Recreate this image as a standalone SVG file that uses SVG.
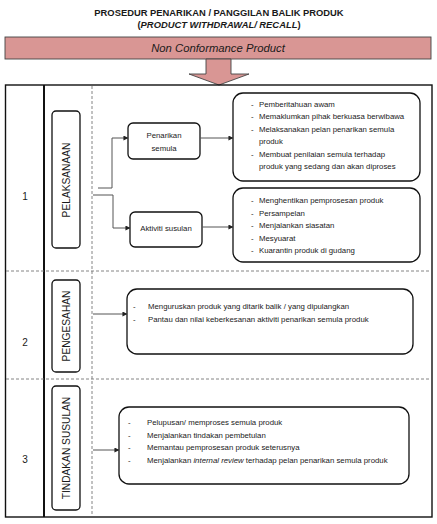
<svg xmlns="http://www.w3.org/2000/svg" width="437" height="524" viewBox="0 0 437 524">
<defs>
<style>
.t{font-family:"Liberation Sans",Arial,sans-serif;fill:#1a1a1a}
.title{font-size:9.4px;font-weight:bold}
.item{font-size:7.8px}
.lbl{font-size:10.2px}
.num{font-size:10px}
.box{fill:#fff;stroke:#111;stroke-width:1.3}
.con{fill:none;stroke:#555;stroke-width:1}
.dash{fill:none;stroke:#777;stroke-width:0.9;stroke-dasharray:3,2}
</style>
<marker id="ah" viewBox="0 0 6 6" refX="5.5" refY="3" markerWidth="5" markerHeight="5" orient="auto" markerUnits="userSpaceOnUse">
<path d="M0,0 L6,3 L0,6 z" fill="#222"/>
</marker>
</defs>
<rect width="437" height="524" fill="#fff"/>
<g id="title">
<text class="t title" x="219" y="16" text-anchor="middle">PROSEDUR PENARIKAN / PANGGILAN BALIK PRODUK</text>
<text class="t title" x="219" y="27.5" text-anchor="middle">(<tspan font-style="italic">PRODUCT WITHDRAWAL/ RECALL</tspan>)</text>
</g>
<g id="banner">
<rect x="5" y="37" width="426" height="22" fill="#d99694" stroke="#444" stroke-width="0.9"/>
<text class="t" x="218" y="52" text-anchor="middle" font-size="11.3" font-style="italic">Non Conformance Product</text>
<path d="M206,59 L231,59 L231,74 L249,74 L219,85 L189,74 L206,74 Z" fill="#d99694" stroke="#444" stroke-width="0.9"/>
</g>
<g id="frame">
<rect x="5.5" y="85" width="426.5" height="432" fill="none" stroke="#111" stroke-width="1.4"/>
<line x1="44" y1="85" x2="44" y2="517" stroke="#111" stroke-width="2"/>
<line class="dash" x1="92" y1="86" x2="92" y2="516"/>
<line class="dash" x1="6" y1="271" x2="431" y2="271"/>
<line class="dash" x1="6" y1="379" x2="431" y2="379"/>
<text class="t num" x="25" y="200" text-anchor="middle">1</text>
<text class="t num" x="25" y="346" text-anchor="middle">2</text>
<text class="t num" x="25" y="463" text-anchor="middle">3</text>
</g>
<g id="lbl-pelaksanaan">
<rect class="box" x="52" y="111" width="28" height="137" rx="4"/>
<text class="t lbl" transform="translate(69.5,180) rotate(-90)" text-anchor="middle">PELAKSANAAN</text>
</g>
<g id="lbl-pengesahan">
<rect class="box" x="52" y="280" width="28" height="92" rx="4"/>
<text class="t lbl" transform="translate(69.5,326) rotate(-90)" text-anchor="middle">PENGESAHAN</text>
</g>
<g id="lbl-tindakan">
<rect class="box" x="52" y="386" width="28" height="124" rx="4"/>
<text class="t lbl" transform="translate(69.5,448) rotate(-90)" text-anchor="middle">TINDAKAN SUSULAN</text>
</g>
<g id="penarikan">
<rect class="box" x="128" y="123" width="72" height="36" rx="5"/>
<text class="t item" x="164" y="137.5" text-anchor="middle">Penarikan</text>
<text class="t item" x="164" y="150.5" text-anchor="middle">semula</text>
</g>
<g id="aktiviti">
<rect class="box" x="130" y="212" width="72" height="35" rx="5"/>
<text class="t item" x="166" y="231" text-anchor="middle">Aktiviti susulan</text>
</g>
<g id="box1">
<rect class="box" x="233" y="93" width="187" height="88" rx="10"/>
<g class="t item">
<text x="251" y="106.5">-</text><text x="259" y="106.5">Pemberitahuan awam</text>
<text x="251" y="119">-</text><text x="259" y="119">Memaklumkan pihak berkuasa berwibawa</text>
<text x="251" y="131.5">-</text><text x="259" y="131.5">Melaksanakan pelan penarikan semula</text>
<text x="259" y="144">produk</text>
<text x="251" y="156.5">-</text><text x="259" y="156.5">Membuat penilaian semula terhadap</text>
<text x="259" y="169">produk yang sedang dan akan diproses</text>
</g>
</g>
<g id="box2">
<rect class="box" x="233" y="188" width="187" height="74" rx="10"/>
<g class="t item">
<text x="251" y="203">-</text><text x="259" y="203">Menghentikan pemprosesan produk</text>
<text x="251" y="215.5">-</text><text x="259" y="215.5">Persampelan</text>
<text x="251" y="228">-</text><text x="259" y="228">Menjalankan siasatan</text>
<text x="251" y="240.5">-</text><text x="259" y="240.5">Mesyuarat</text>
<text x="251" y="253">-</text><text x="259" y="253">Kuarantin produk di gudang</text>
</g>
</g>
<g id="box-pengesahan">
<rect class="box" x="127" y="289" width="286" height="65" rx="10"/>
<g class="t item">
<text x="133" y="309">-</text><text x="148" y="309">Menguruskan produk yang ditarik balik / yang dipulangkan</text>
<text x="133" y="322">-</text><text x="148" y="322">Pantau dan nilai keberkesanan aktiviti penarikan semula produk</text>
</g>
</g>
<g id="box-tindakan">
<rect class="box" x="119" y="407" width="290" height="77" rx="10"/>
<g class="t item">
<text x="128" y="425">-</text><text x="147" y="425">Pelupusan/ memproses semula produk</text>
<text x="128" y="437.5">-</text><text x="147" y="437.5">Menjalankan tindakan pembetulan</text>
<text x="128" y="450">-</text><text x="147" y="450">Memantau pemprosesan produk seterusnya</text>
<text x="128" y="462.5">-</text><text x="147" y="462.5">Menjalankan <tspan font-style="italic">internal review</tspan> terhadap pelan penarikan semula produk</text>
</g>
</g>
<g id="connectors">
<path class="con" d="M98,188 H112 V138 H128" marker-end="url(#ah)"/>
<path class="con" d="M93,195 H113 V228 H130" marker-end="url(#ah)"/>
<path class="con" d="M200,138 H233" marker-end="url(#ah)"/>
<path class="con" d="M202,227 H233" marker-end="url(#ah)"/>
<path class="con" d="M93,314 H127" marker-end="url(#ah)"/>
<path class="con" d="M93,450 H119" marker-end="url(#ah)"/>
</g>
</svg>
